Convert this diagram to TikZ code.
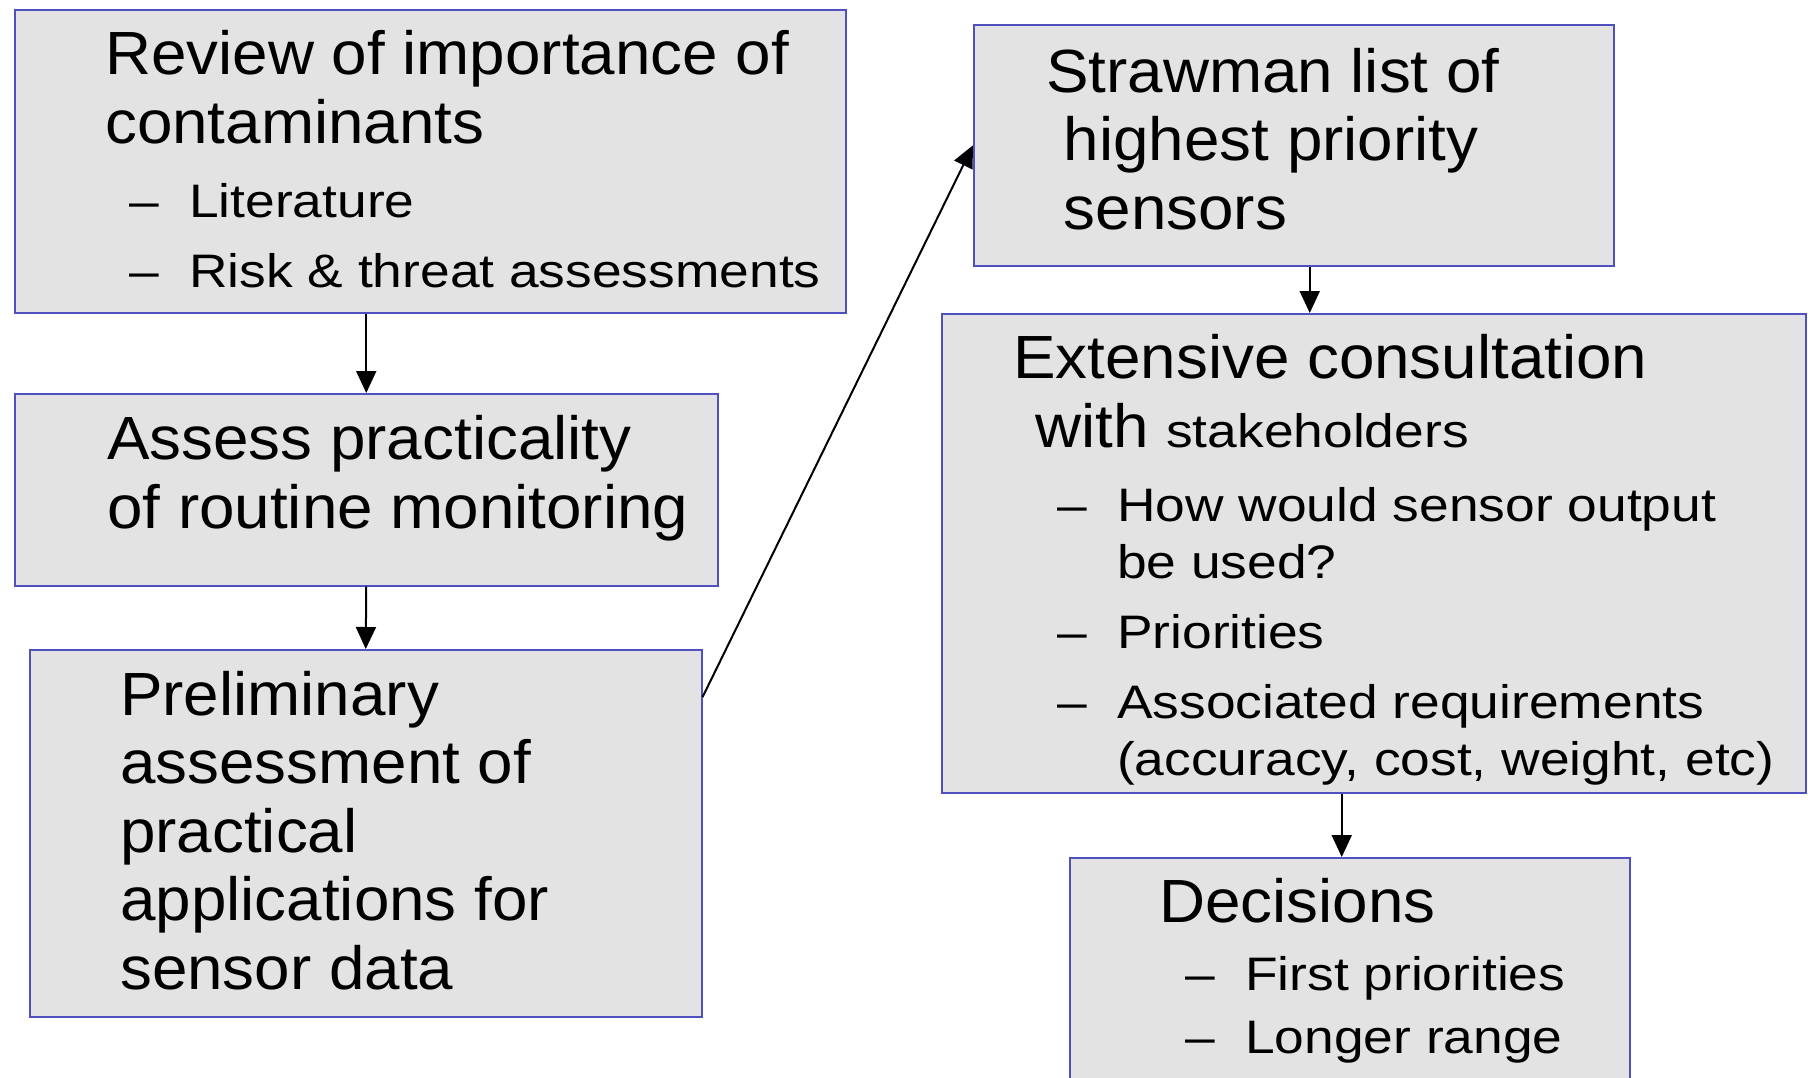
\documentclass[tikz,border=0pt]{standalone}
\usepackage{fontspec}
\setmainfont{Liberation Sans}
\newfontfamily\headfont{Liberation Sans}[FakeStretch=1.045]
\newfontfamily\itemfont{Liberation Sans}[FakeStretch=1.135]
\usetikzlibrary{arrows.meta}
\definecolor{boxgray}{RGB}{227,227,227}
\definecolor{boxblue}{RGB}{80,80,190}
\newcommand{\dashitem}[1]{\makebox[60pt][l]{–}#1}
\newcommand{\dashcont}[1]{\hspace*{60pt}#1}

\begin{document}
\begin{tikzpicture}[x=1pt,y=-1pt,
  box/.style={draw=boxblue,fill=boxgray,line width=1.5pt,inner sep=0pt,anchor=north west},
  head/.style={anchor=base west,align=left,inner sep=0pt,font=\headfont\fontsize{61}{68.5}\selectfont},
  items/.style={anchor=base west,align=left,inner sep=0pt,font=\itemfont\fontsize{47}{57}\selectfont},
  flow/.style={-{Triangle[length=22pt,width=20pt]},line width=2pt}]
 \clip (0,0) rectangle (1808,1077);

 % boxes
 \node[box,minimum width=831pt,minimum height=303pt] (review) at (14,9) {};
 \node[box,minimum width=703pt,minimum height=192pt] (assess) at (14,393) {};
 \node[box,minimum width=672pt,minimum height=367pt] (prelim) at (29,649) {};
 \node[box,minimum width=640pt,minimum height=241pt] (straw) at (973,24) {};
 \node[box,minimum width=864pt,minimum height=479pt] (consult) at (941,313) {};
 \node[box,minimum width=560pt,minimum height=260pt] (decide) at (1069,857) {};

 % texts (placed at the baseline of their last line)
 \node[head] (reviewtxt) at (105,143) {Review of importance of\\contaminants};
 \node[items] (reviewlist) at (129,287) {\dashitem{Literature}\\[13pt]
   \dashitem{Risk \& threat assessments}};

 \node[head] (assesstxt) at (107,528) {Assess practicality\\of routine monitoring};

 \node[head] (prelimtxt) at (120,989) {Preliminary\\assessment of\\practical\\applications for\\sensor data};

 \node[head] (strawtxt) at (1046,229) {Strawman list of\\\hspace*{17.7pt}highest priority\\\hspace*{17.7pt}sensors};

 \node[head] (consulttxt) at (1013,447) {Extensive consultation\\\hspace*{22pt}with {\itemfont\fontsize{47}{57}\selectfont stakeholders}};
 \node[items] (consultlist) at (1057,775) {\dashitem{How would sensor output}\\
   \dashcont{be used?}\\[13pt]
   \dashitem{Priorities}\\[13pt]
   \dashitem{Associated requirements}\\
   \dashcont{(accuracy, cost, weight, etc)}};

 \node[head] (decidetxt) at (1159,922) {Decisions};
 \node[items] (decidelist) at (1185,1053) {\dashitem{First priorities}\\[6pt]
   \dashitem{Longer range}};

 % arrows
 \draw[flow] (review.south -| assess.north) -- (assess.north);
 \draw[flow] (assess.south) -- (prelim.north);
 \draw[flow] (prelim.22) -- (straw.west);
 \draw[flow] ([xshift=16pt]straw.south) -- ([xshift=16pt]straw.south |- consult.north);
 \draw[flow] ([xshift=-8pt]decide.north |- consult.south) -- ([xshift=-8pt]decide.north);
\end{tikzpicture}
\end{document}
